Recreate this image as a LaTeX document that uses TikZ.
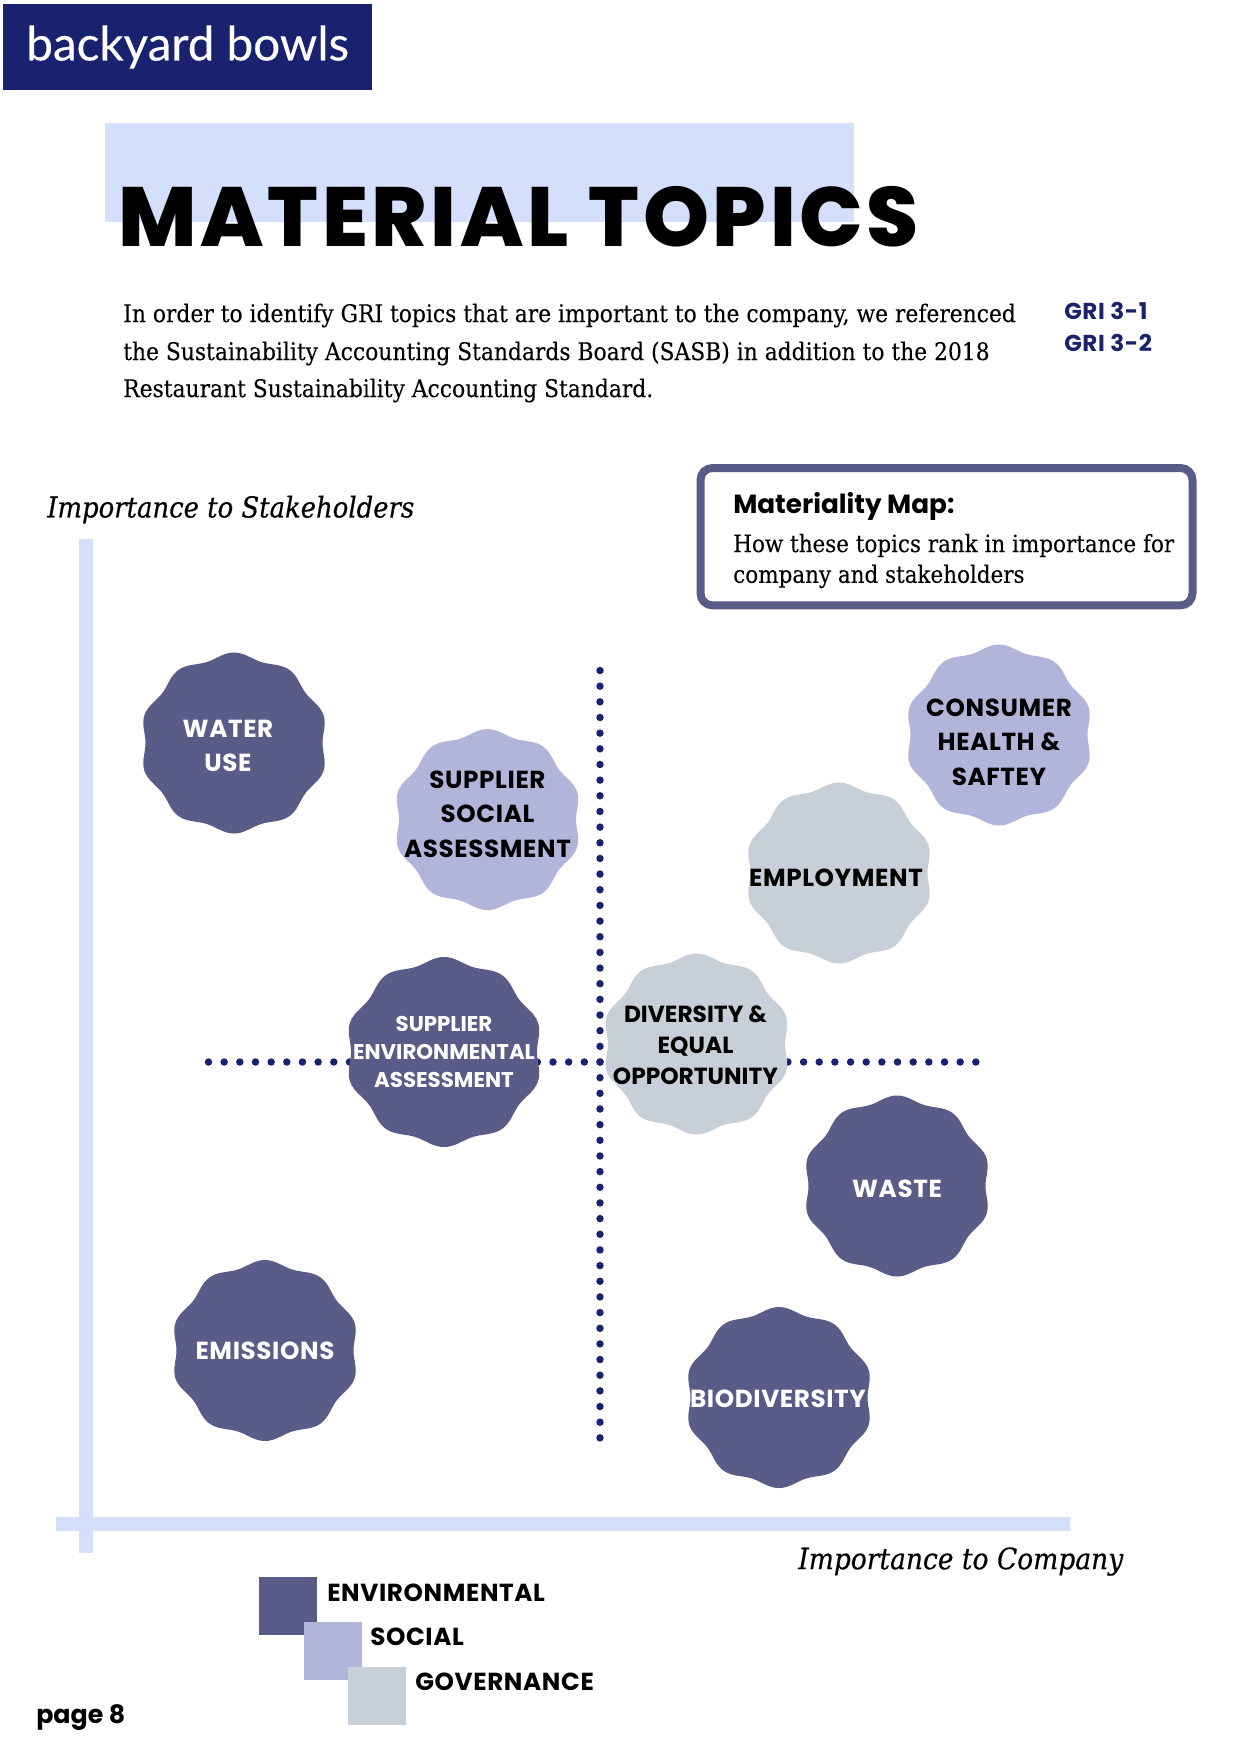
\documentclass[tikz,border=0pt]{standalone}
\usepackage{fontspec}
\setmainfont{DejaVu Serif Condensed}[FakeBold=0.12,ItalicFeatures={FakeBold=0.4}]
\newfontfamily\popfont{Poppins Bold}[LetterSpace=2.5]
\newfontfamily\popplain{Poppins Bold}
\newfontfamily\titlefont{Poppins ExtraBold}[LetterSpace=4.4]
\newfontfamily\logofont{Lato}[FakeBold=0.3]
\usetikzlibrary{positioning}
\definecolor{logoblue}{HTML}{1A2270}
\definecolor{barblue}{HTML}{D4E0FB}
\definecolor{envblue}{HTML}{5A5C88}
\definecolor{socblue}{HTML}{B2B5DA}
\definecolor{govgrey}{HTML}{C7CFD8}
\begin{document}
\begin{tikzpicture}[x=0.75pt,y=-0.75pt,
  bar/.style={fill=barblue,draw=none},
  para/.style={anchor=west,inner sep=0pt,font=\fontsize{18.2}{28}\selectfont},
  axislabel/.style={anchor=west,inner sep=0pt,font=\fontsize{21.6}{24}\selectfont\itshape},
  topic/.style={align=center,inner sep=0pt,font=\popfont\fontsize{18.5}{25.9}\selectfont},
  smalltopic/.style={topic,font=\popplain\fontsize{16}{21}\selectfont},
  legendbox/.style={minimum width=43.5pt,minimum height=43.5pt,inner sep=0pt,anchor=north west},
  legendtext/.style={anchor=west,inner sep=0pt,font=\popfont\fontsize{18.5}{24}\selectfont},
  griref/.style={anchor=west,inner sep=0pt,text=logoblue,font=\popfont\fontsize{17.3}{20}\selectfont},
  dotline/.style={draw=logoblue,line width=5.6pt,line cap=round,dash pattern=on 0pt off 11.745pt}]
\useasboundingbox (0,0) rectangle (1240,1754);
\fill[white] (0,0) rectangle (1240,1754);
% header
\node[fill=logoblue,text=white,minimum width=276.5pt,minimum height=64pt,inner sep=0pt,font=\logofont\fontsize{35.7}{40}\selectfont] (logo) at (187.7,47) {backyard bowls};
\node[bar,anchor=north west,minimum width=561.75pt,minimum height=74.25pt,inner sep=0pt] (titlebar) at (105,123) {};
\node[anchor=west,inner sep=0pt,font=\titlefont\fontsize{63}{70}\selectfont] (title) at (118,217) {MATERIAL TOPICS};
\node[para] (para1) at (123,315.5) {In order to identify GRI topics that are important to the company, we referenced};
\node[para] (para2) at (123,353.5) {the Sustainability Accounting Standards Board (SASB) in addition to the 2018};
\node[para] (para3) at (123,390.5) {Restaurant Sustainability Accounting Standard.};
\node[griref] (gri1) at (1064,311) {GRI 3-1};
\node[griref] (gri2) at (1064,343) {GRI 3-2};
% map box
\node[draw=envblue,line width=6pt,rounded corners=9pt,minimum width=369pt,minimum height=103pt,anchor=north west,inner sep=0pt] (mapbox) at (696.5,464) {};
\node[anchor=west,inner sep=0pt,font=\popplain\fontsize{19.7}{24}\selectfont] (maphead) at (733,506) {Materiality Map:};
\node[para,font=\fontsize{17.9}{23}\selectfont,align=left] (mapnote) at (733,561) {How these topics rank in importance for\\company and stakeholders};
% axes
\node[bar,anchor=north west,minimum width=10.5pt,minimum height=760.5pt,inner sep=0pt] (vaxis) at (79,539) {};
\node[bar,anchor=north west,minimum width=760.5pt,minimum height=10pt,inner sep=0pt] (haxis) at (56,1517) {};
\node[axislabel] (ylabel) at (47,509.5) {Importance to Stakeholders};
\node[axislabel,font=\fontsize{22.1}{24}\selectfont\itshape] (xlabel) at (798,1561.5) {Importance to Company};
% quadrant lines
\coordinate (vtop) at (600,670.5);
\coordinate (vbot) at (600,1438);
\coordinate (hleft) at (208.5,1062);
\coordinate (hright) at (976,1062);
\draw[dotline] (vtop) -- (vbot);
\draw[dotline] (hleft) -- (hright);
% badges
\foreach \cx/\cy/\r/\col in {234/743/1/envblue, 487.5/819.6/1/socblue, 999/735/1/socblue,
    839/873/1/govgrey, 444/1052/1.05/envblue, 696.5/1044/1/govgrey,
    897/1186/1/envblue, 265/1350.5/1/envblue, 779/1397.5/1/envblue}
  \fill[\col] plot[domain=0:360,samples=181,smooth] ({\cx+1.04*\r*(87.8+2.7*cos(10*\x))*sin(\x)},{\cy-\r*(87.8+2.7*cos(10*\x))*cos(\x)}) -- cycle;
\node[topic,text=white] (water) at (228,746) {WATER\\USE};
\node[topic] (supsoc) at (487.5,814) {SUPPLIER\\SOCIAL\\ASSESSMENT};
\node[topic] (consumer) at (999,742) {CONSUMER\\HEALTH \&\\SAFTEY};
\node[topic] (employ) at (836,878) {EMPLOYMENT};
\node[smalltopic,text=white] (supenv) at (444,1052) {SUPPLIER\\ENVIRONMENTAL\\ASSESSMENT};
\node[topic,font=\popplain\fontsize{17.5}{23.3}\selectfont] (divers) at (695.5,1045) {DIVERSITY \&\\EQUAL\\OPPORTUNITY};
\node[topic,text=white] (waste) at (897,1189) {WASTE};
\node[topic,text=white] (emiss) at (265,1351) {EMISSIONS};
\node[topic,text=white] (biodiv) at (778,1399) {BIODIVERSITY};
% legend
\node[legendbox,fill=envblue] (envbox) at (259,1577) {};
\node[legendbox,fill=socblue] (socbox) at (304,1622) {};
\node[legendbox,fill=govgrey] (govbox) at (348,1667) {};
\node[legendtext] (envtext) at (327,1593) {ENVIRONMENTAL};
\node[legendtext] (soctext) at (370,1637) {SOCIAL};
\node[legendtext] (govtext) at (415,1682) {GOVERNANCE};
\node[legendtext,font=\popplain\fontsize{19}{24}\selectfont] (pagenum) at (36,1718) {page 8};
\end{tikzpicture}
\end{document}
